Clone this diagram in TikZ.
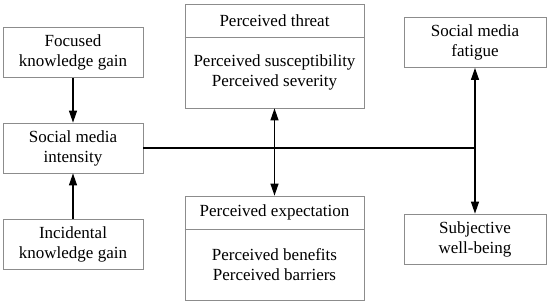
\documentclass[tikz,border=0pt]{standalone}
\usepackage{fontspec}
\setmainfont{Liberation Serif}
\usepackage{tikz}
\usetikzlibrary{arrows.meta,positioning,calc}

\begin{document}
\begin{tikzpicture}[
  x=1pt, y=-1pt,
  factor/.style={draw=black!45, rectangle, line width=0.8pt, inner sep=0pt,
    minimum width=140pt, minimum height=50pt, align=center,
    font=\fontsize{17}{20}\selectfont},
  outer/.style={factor, minimum width=179pt, minimum height=104pt},
  sidebox/.style={factor, minimum width=142pt},
  txt/.style={inner sep=0pt, align=center, font=\fontsize{17}{20}\selectfont},
  ptr/.style={->, >={Triangle[length=12pt,width=8pt]}, line width=1.2pt},
  dptr/.style={ptr, <->},
  link/.style={line width=1.2pt}
]
\useasboundingbox (0,0) rectangle (550,305);
% left column
\node[factor] (focused) at (73,52.5) {Focused\\knowledge gain};
\node[factor] (intensity) at (73,148) {Social media\\intensity};
\node[factor] (incidental) at (73,244) {Incidental\\knowledge gain};
% middle column
\node[outer] (threat) at (274.5,56) {};
\draw[draw=black!45, line width=0.8pt] (threat.west |- 0,37) -- (threat.east |- 0,37);
\node[txt] (threatT) at (274.5,20.5) {Perceived threat};
\node[txt] (threatB) at (274.5,72.5) {Perceived susceptibility\\Perceived severity};
\node[outer] (expect) at (274.5,248) {};
\draw[draw=black!45, line width=0.8pt] (expect.west |- 0,229) -- (expect.east |- 0,229);
\node[txt] (expectT) at (274.5,212.5) {Perceived expectation};
\node[txt] (expectB) at (274.5,264.5) {Perceived benefits\\Perceived barriers};
% right column
\node[sidebox] (fatigue) at (475,42.5) {Social media\\fatigue};
\node[sidebox] (wellbeing) at (475,239) {Subjective\\well-being};
% connectors
\coordinate (joint) at (475,148);
\draw[ptr] (focused) -- (intensity);
\draw[ptr] (incidental) -- (intensity);
\draw[link] (intensity.east) -- (joint);
\draw[dptr] (threat) -- (expect);
\draw[dptr] (fatigue) -- (wellbeing);
\end{tikzpicture}
\end{document}
